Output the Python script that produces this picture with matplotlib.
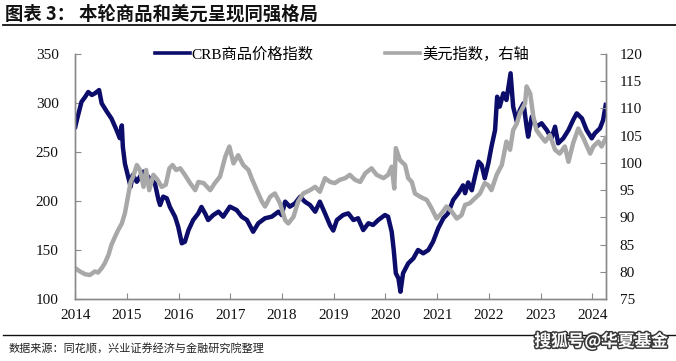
import matplotlib
matplotlib.use("Agg")
import matplotlib.pyplot as plt
from matplotlib.lines import Line2D
import matplotlib.patheffects as pe

# ---------------- data ----------------
crb_t = [2014.00, 2014.03, 2014.12, 2014.19, 2014.25, 2014.32, 2014.38, 2014.46, 2014.51, 2014.61,
         2014.70, 2014.80, 2014.86, 2014.90, 2014.92, 2014.96, 2015.03, 2015.07, 2015.11, 2015.19,
         2015.25, 2015.32, 2015.38, 2015.44, 2015.54, 2015.61, 2015.64, 2015.70, 2015.77, 2015.83,
         2015.93, 2015.99, 2016.06, 2016.12, 2016.19, 2016.28, 2016.38, 2016.44, 2016.51, 2016.57,
         2016.67, 2016.77, 2016.86, 2016.99, 2017.12, 2017.22, 2017.32, 2017.44, 2017.54, 2017.67,
         2017.80, 2017.93, 2017.99, 2018.06, 2018.15, 2018.25, 2018.35, 2018.44, 2018.54, 2018.64,
         2018.73, 2018.83, 2018.93, 2018.99, 2019.06, 2019.18, 2019.28, 2019.38, 2019.47, 2019.57,
         2019.67, 2019.76, 2019.86, 2019.99, 2020.05, 2020.12, 2020.16, 2020.20, 2020.25, 2020.29,
         2020.34, 2020.44, 2020.54, 2020.63, 2020.73, 2020.83, 2020.92, 2021.02, 2021.12, 2021.21,
         2021.31, 2021.41, 2021.50, 2021.54, 2021.60, 2021.67, 2021.73, 2021.80, 2021.86, 2021.92,
         2021.99, 2022.05, 2022.12, 2022.16, 2022.21, 2022.28, 2022.34, 2022.42, 2022.47, 2022.54,
         2022.60, 2022.67, 2022.73, 2022.76, 2022.83, 2022.92, 2023.02, 2023.12, 2023.21, 2023.28,
         2023.34, 2023.44, 2023.54, 2023.63, 2023.70, 2023.80, 2023.89, 2023.99, 2024.05, 2024.15,
         2024.21, 2024.26]
crb_v = [275.7, 282.5, 301.0, 306.0, 311.0, 308.0, 309.7, 313.0, 299.5, 291.0,
         284.0, 272.0, 264.0, 277.0, 255.0, 238.0, 223.0, 214.6, 226.5, 219.7,
         224.8, 230.0, 226.5, 223.0, 218.0, 201.0, 196.0, 204.5, 202.8, 194.0,
         184.0, 174.0, 157.0, 158.6, 170.5, 180.7, 187.5, 194.0, 187.5, 180.7,
         185.8, 189.2, 184.1, 194.3, 190.9, 184.1, 180.7, 168.8, 177.4, 182.5,
         184.1, 189.2, 185.8, 199.4, 194.3, 197.7, 204.4, 199.4, 196.0, 189.2,
         199.4, 187.5, 175.0, 170.0, 180.7, 185.8, 187.5, 180.7, 182.5, 170.5,
         177.4, 175.7, 180.7, 185.8, 184.1, 168.8, 150.2, 126.5, 121.4, 107.7,
         126.5, 136.6, 141.7, 150.2, 146.8, 150.2, 158.6, 172.3, 182.5, 187.5,
         201.1, 208.0, 216.0, 208.0, 219.0, 211.0, 224.8, 240.1, 236.7, 223.2,
         238.4, 255.3, 272.3, 306.2, 296.1, 309.7, 302.9, 330.1, 296.1, 280.8,
         292.7, 299.5, 275.7, 265.5, 285.9, 275.7, 279.2, 272.3, 263.9, 275.7,
         258.8, 263.9, 272.3, 282.5, 289.3, 284.2, 272.3, 263.9, 269.0, 274.1,
         282.5, 297.8]

dxy_t = [2014.00, 2014.09, 2014.19, 2014.28, 2014.38, 2014.44, 2014.51, 2014.57, 2014.64, 2014.70,
         2014.77, 2014.83, 2014.90, 2014.96, 2015.03, 2015.07, 2015.12, 2015.19, 2015.25, 2015.32,
         2015.37, 2015.43, 2015.51, 2015.59, 2015.67, 2015.75, 2015.82, 2015.88, 2015.95, 2016.03,
         2016.12, 2016.22, 2016.32, 2016.38, 2016.48, 2016.61, 2016.70, 2016.80, 2016.90, 2016.98,
         2017.06, 2017.15, 2017.25, 2017.35, 2017.41, 2017.51, 2017.61, 2017.67, 2017.77, 2017.86,
         2017.96, 2018.06, 2018.12, 2018.22, 2018.31, 2018.41, 2018.54, 2018.64, 2018.73, 2018.83,
         2018.93, 2019.02, 2019.12, 2019.22, 2019.31, 2019.41, 2019.51, 2019.61, 2019.73, 2019.83,
         2019.96, 2020.05, 2020.12, 2020.17, 2020.20, 2020.28, 2020.38, 2020.44, 2020.51, 2020.57,
         2020.67, 2020.80, 2020.89, 2020.99, 2021.09, 2021.18, 2021.28, 2021.38, 2021.47, 2021.54,
         2021.63, 2021.73, 2021.83, 2021.92, 2021.99, 2022.05, 2022.15, 2022.25, 2022.34, 2022.41,
         2022.47, 2022.54, 2022.60, 2022.70, 2022.73, 2022.80, 2022.86, 2022.92, 2022.99, 2023.09,
         2023.18, 2023.28, 2023.37, 2023.47, 2023.54, 2023.63, 2023.73, 2023.83, 2023.96, 2024.02,
         2024.12, 2024.18, 2024.26]
dxy_v = [80.7, 80.1, 79.6, 79.45, 80.1, 79.9, 80.7, 81.6, 83.1, 85.0,
         86.5, 87.7, 88.9, 90.8, 94.4, 96.5, 97.5, 99.6, 98.7, 95.6,
         98.7, 95.0, 97.8, 96.9, 95.6, 96.0, 99.0, 99.6, 98.7, 99.0,
         97.8, 96.3, 95.0, 96.5, 96.3, 95.0, 96.3, 97.5, 101.1, 103.0,
         99.9, 101.4, 99.6, 98.7, 97.2, 95.0, 92.9, 92.0, 93.8, 94.4,
         92.6, 89.5, 88.9, 90.1, 92.9, 94.4, 95.0, 95.6, 94.7, 97.2,
         96.5, 96.3, 96.9, 97.2, 97.8, 96.9, 96.5, 98.1, 99.0, 97.8,
         97.2, 97.8, 99.3, 95.3, 102.7, 100.5, 99.6, 97.2, 96.5, 94.4,
         93.8, 93.2, 91.7, 89.8, 90.8, 92.0, 91.1, 89.8, 90.4, 92.3,
         92.6, 93.5, 94.4, 96.3, 95.9, 95.0, 97.8, 99.6, 103.9, 102.4,
         106.0, 107.2, 109.1, 110.9, 114.0, 112.7, 108.5, 106.0, 105.1, 103.9,
         105.1, 102.4, 101.7, 103.0, 100.2, 103.6, 106.3, 104.5, 101.7, 103.0,
         103.9, 103.0, 104.5]

years = list(range(2014, 2025))
left_ticks = [100, 150, 200, 250, 300, 350]
right_ticks = [75, 80, 85, 90, 95, 100, 105, 110, 115, 120]

title = "图表 3： 本轮商品和美元呈现同强格局"
label_crb = "CRB商品价格指数"
label_dxy = "美元指数，右轴"
source = "数据来源：同花顺，兴业证券经济与金融研究院整理"
watermark = "搜狐号@华夏基金"

# ---------------- styling ----------------
serif = ["Liberation Serif", "Noto Sans CJK SC"]
cjk = ["Noto Sans CJK SC", "DejaVu Sans"]
navy = "#0c0c6a"
grey = "#a8a8a8"
axc = "#8a8a8a"

fig = plt.figure(figsize=(6.76, 3.61), dpi=100)
ax = fig.add_axes([0.1114, 0.1709, 0.7846, 0.6803])
ax2 = ax.twinx()

l1, = ax.plot(crb_t, crb_v, color=navy, lw=3.2, solid_joinstyle="round", label=label_crb)
l2, = ax2.plot(dxy_t, dxy_v, color=grey, lw=3.2, solid_joinstyle="round", label=label_dxy)

ax.set_xlim(2014.0, 2024.26)
ax.set_ylim(100, 350)
ax2.set_ylim(75, 120)
ax.set_xticks(years)
ax.set_xticklabels([str(y) for y in years])
ax.set_yticks(left_ticks)
ax2.set_yticks(right_ticks)

for a in (ax, ax2):
    a.spines["top"].set_visible(False)
    for s in ("left", "right", "bottom"):
        a.spines[s].set_color(axc)
        a.spines[s].set_linewidth(1.0)
    a.patch.set_visible(False)

ax.tick_params(axis="x", direction="in", length=4, color=axc, pad=7)
ax.tick_params(axis="y", direction="in", length=4, color=axc, pad=12, right=False)
ax2.tick_params(axis="y", direction="in", length=4, color=axc, pad=10)

for lab in ax.get_xticklabels() + ax.get_yticklabels() + ax2.get_yticklabels():
    lab.set_fontfamily(serif)
    lab.set_fontsize(11)
    lab.set_color("#111111")

leg = ax.legend([l1, l2], [label_crb, label_dxy], loc="upper left",
                bbox_to_anchor=(0.15, 1.03), ncol=2, frameon=False,
                handlelength=2.3, handletextpad=0.1, columnspacing=4.7,
                borderpad=0, borderaxespad=0,
                prop={"family": serif, "size": 11})
for h in leg.legend_handles:
    h.set_linewidth(2.6)
leg.set_zorder(5)

# title and rules
fig.text(0.008, 0.961, title, fontfamily=cjk, fontsize=13.2, fontweight="bold",
         color="#111111", va="center", ha="left")
fig.add_artist(Line2D([0.004, 1.0], [0.931, 0.931], transform=fig.transFigure,
                      color="#111111", lw=1.3))
fig.add_artist(Line2D([0.004, 1.0], [0.072, 0.072], transform=fig.transFigure,
                      color="#111111", lw=1.0))
fig.text(0.012, 0.033, source, fontfamily=cjk, fontsize=8.0, color="#222222",
         va="center", ha="left")
fig.text(0.889, 0.055, watermark, fontfamily=cjk, fontsize=12, fontweight="bold",
         color="white", va="center", ha="center",
         path_effects=[pe.withStroke(linewidth=2.2, foreground="#3a3a3a")])

fig.savefig("out.png", dpi=100)
